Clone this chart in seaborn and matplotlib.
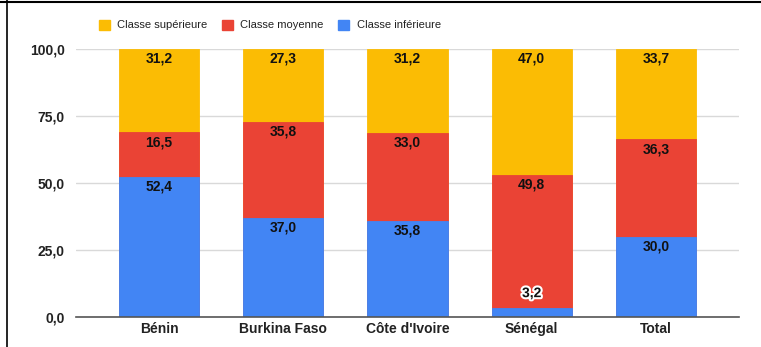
import numpy as np
import pandas as pd
import seaborn as sns
import matplotlib.pyplot as plt
from matplotlib.lines import Line2D
from matplotlib.patches import Patch
import matplotlib.patheffects as pe

pays = ["Bénin", "Burkina Faso", "Côte d'Ivoire", "Sénégal", "Total"]
classe_inferieure = [52.4, 37.0, 35.8, 3.2, 30.0]
classe_moyenne = [16.5, 35.8, 33.0, 49.8, 36.3]
classe_superieure = [31.2, 27.3, 31.2, 47.0, 33.7]
y_ticks = [0, 25, 50, 75, 100]

c_inf = "#4285F4"
c_moy = "#EA4335"
c_sup = "#FBBC04"

sns.set_theme(style="white")
plt.rcParams["font.family"] = ["Liberation Sans", "DejaVu Sans"]

df = pd.DataFrame({
    "pays": pays,
    "inf": classe_inferieure,
    "moy": classe_moyenne,
    "sup": classe_superieure,
})
df["cum_inf"] = df["inf"]
df["cum_moy"] = df["inf"] + df["moy"]
df["cum_sup"] = df["inf"] + df["moy"] + df["sup"]

fig = plt.figure(figsize=(7.61, 3.47), dpi=100)
ax = fig.add_axes([76 / 761, 30 / 347, (739 - 76) / 761, (317 - 49) / 347])

# stacked bars drawn as overlapping cumulative totals
for col, color in [("cum_sup", c_sup), ("cum_moy", c_moy), ("cum_inf", c_inf)]:
    sns.barplot(data=df, x="pays", y=col, color=color, width=0.645,
                saturation=1, ax=ax, edgecolor=color, linewidth=0.6)

ax.set_ylim(0, 100)
ax.set_xlim(-0.67, len(pays) - 1 + 0.67)
ax.set_yticks(y_ticks)
ax.set_yticklabels([f"{v:.1f}".replace(".", ",") for v in y_ticks],
                   fontsize=10, fontweight="bold", color="#222222")
ax.set_xticks(range(len(pays)))
ax.set_xticklabels(pays, fontsize=10, fontweight="bold", color="#222222")
ax.tick_params(axis="y", length=0, pad=8)
ax.tick_params(axis="x", length=0, pad=3.5)
ax.set_xlabel("")
ax.set_ylabel("")
ax.grid(axis="y", color="#d9d9d9", linewidth=1)
ax.set_axisbelow(True)
for s in ["top", "right", "left"]:
    ax.spines[s].set_visible(False)
ax.spines["bottom"].set_color("#555555")
ax.spines["bottom"].set_linewidth(1.2)
ax.spines["bottom"].set_zorder(5)

# value labels near the top of each segment
for i in range(len(pays)):
    segs = [(df["cum_inf"][i], df["inf"][i]),
            (df["cum_moy"][i], df["moy"][i]),
            (min(df["cum_sup"][i], 100), df["sup"][i])]
    for top, val in segs:
        txt = f"{val:.1f}".replace(".", ",")
        if val < 6:
            ax.annotate(txt, (i, top), xytext=(0, 11), textcoords="offset points",
                        ha="center", va="center", fontsize=10, fontweight="bold",
                        color="#111111",
                        path_effects=[pe.withStroke(linewidth=3, foreground="white")])
        else:
            ax.annotate(txt, (i, top), xytext=(0, -7), textcoords="offset points",
                        ha="center", va="center", fontsize=10, fontweight="bold",
                        color="#111111")

handles = [Patch(facecolor=c_sup, edgecolor=c_sup),
           Patch(facecolor=c_moy, edgecolor=c_moy),
           Patch(facecolor=c_inf, edgecolor=c_inf)]
fig.legend(handles, ["Classe supérieure", "Classe moyenne", "Classe inférieure"],
           loc="center left", bbox_to_anchor=(89 / 761, 1 - 25 / 347), ncol=3,
           frameon=False, fontsize=8, handlelength=0.95, handleheight=1.0,
           handletextpad=0.7, columnspacing=1.3, labelcolor="#222222")

# frame lines along the top and left edges
fig.add_artist(Line2D([0, 1], [1 - 1.5 / 347] * 2, color="black", linewidth=1.5))
fig.add_artist(Line2D([7 / 761] * 2, [0, 1], color="black", linewidth=1.2))

fig.savefig("out.png", dpi=100)
